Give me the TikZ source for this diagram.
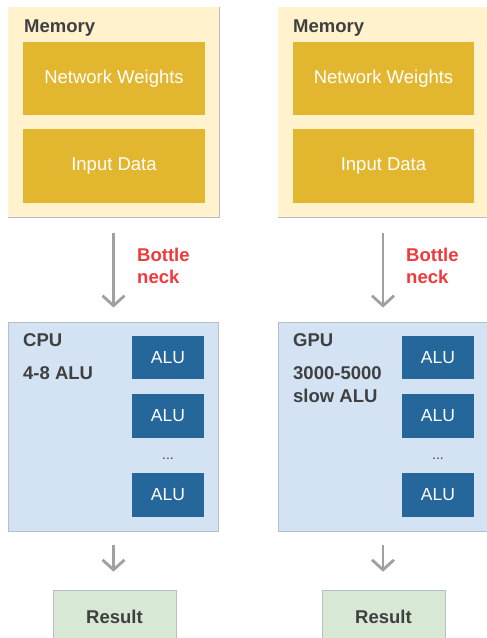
\documentclass[tikz,border=0pt]{standalone}
\usepackage{fontspec}
\setmainfont{Liberation Sans}
\usetikzlibrary{arrows.meta}
\definecolor{cream}{HTML}{FFF2CC}
\definecolor{gold}{HTML}{E2B72F}
\definecolor{lblue}{HTML}{D3E3F4}
\definecolor{dblue}{HTML}{25679B}
\definecolor{lgreen}{HTML}{D7E8D4}
\definecolor{bred}{HTML}{EE3A3C}
\definecolor{tgrey}{HTML}{404040}
\definecolor{agrey}{HTML}{A0A0A0}
\definecolor{bgrey}{HTML}{B8BEC6}
\tikzset{
  memframe/.style={rectangle, fill=cream, minimum width=211pt, minimum height=210pt, inner sep=0pt},
  goldbox/.style={rectangle, fill=gold, text=white, minimum height=73pt, inner sep=0pt, font=\fontsize{18.5}{22}\selectfont},
  procframe/.style={rectangle, fill=lblue, draw=bgrey, line width=0.8pt, minimum width=210pt, minimum height=209pt, inner sep=0pt},
  alubox/.style={rectangle, fill=dblue, text=white, minimum width=72pt, minimum height=44pt, inner sep=0pt, font=\fontsize{17.5}{20}\selectfont},
  resbox/.style={rectangle, fill=lgreen, draw=bgrey, line width=0.6pt, minimum width=123pt, minimum height=54pt, inner sep=0pt, text=tgrey, font=\bfseries\fontsize{18.5}{22}\selectfont},
  lbl/.style={anchor=base west, inner sep=0pt, text=tgrey, font=\bfseries\fontsize{18.5}{22}\selectfont},
  redlbl/.style={anchor=base west, inner sep=0pt, text=bred, font=\bfseries\fontsize{18.5}{22}\selectfont},
  dots/.style={anchor=base, inner sep=0pt, text=tgrey, font=\fontsize{14}{16}\selectfont},
  arr/.style={draw=agrey, line width=2.8pt, -{Straight Barb[length=10pt,width=22pt,line width=2.8pt]}},
}
\begin{document}
\begin{tikzpicture}[x=1pt,y=-1pt]
\useasboundingbox (0,0) rectangle (487,638);
\begin{scope}
\clip (0,0) rectangle (487,638);
% memory frames
\node[memframe] (mem1) at (113.5,112) {};
\draw[bgrey, line width=1pt] (mem1.north east) -- (mem1.south east) -- (mem1.south west);
\node[memframe, minimum width=210pt] (mem2) at (383,112) {};
\draw[bgrey, line width=1pt] (mem2.north east) -- (mem2.south east) -- (mem2.south west);
\node[lbl] (memt1) at (24,32) {Memory};
\node[lbl] (memt2) at (293,32) {Memory};
\node[goldbox, minimum width=182pt] (nw1) at (114,78.5) {Network Weights};
\node[goldbox, minimum width=182pt, minimum height=74pt] (id1) at (114,166) {Input Data};
\node[goldbox, minimum width=181pt] (nw2) at (383.5,78.5) {Network Weights};
\node[goldbox, minimum width=181pt, minimum height=74pt] (id2) at (383.5,166) {Input Data};
% processors
\node[procframe] (cpu) at (113.5,426.5) {};
\node[procframe] (gpu) at (383,426.5) {};
\node[lbl] (cput) at (23,346) {CPU};
\node[lbl] (cpun) at (23,379) {4-8 ALU};
\node[lbl] (gput) at (293,346) {GPU};
\node[lbl] (gpun) at (293,379) {3000-5000};
\node[lbl] (gpus) at (293,402) {slow ALU};
\node[alubox, minimum height=43pt] (a1) at (168,357.5) {ALU};
\node[alubox] (a2) at (168,416) {ALU};
\node[dots] (d1) at (168,459) {...};
\node[alubox] (a3) at (168,495) {ALU};
\node[alubox, minimum height=43pt] (b1) at (438,357.5) {ALU};
\node[alubox] (b2) at (438,416) {ALU};
\node[dots] (d2) at (438,459) {...};
\node[alubox] (b3) at (438,495) {ALU};
% results
\node[resbox] (res1) at (114.5,617) {Result};
\node[resbox] (res2) at (383.5,617) {Result};
% arrows
\draw[arr, shorten <=16pt, shorten >=14pt] (mem1.south) -- (cpu.north);
\draw[arr, shorten <=16pt, shorten >=14pt] (mem2.south) -- (gpu.north);
\draw[arr, shorten <=14pt, shorten >=18pt] (cpu.south) -- (cpu.south |- res1.north);
\draw[arr, shorten <=14pt, shorten >=18pt] (gpu.south) -- (gpu.south |- res2.north);
\node[redlbl] (bn1a) at (137,261) {Bottle};
\node[redlbl] (bn1b) at (137,283) {neck};
\node[redlbl] (bn2a) at (406,261) {Bottle};
\node[redlbl] (bn2b) at (406,283) {neck};
\end{scope}
\end{tikzpicture}
\end{document}
